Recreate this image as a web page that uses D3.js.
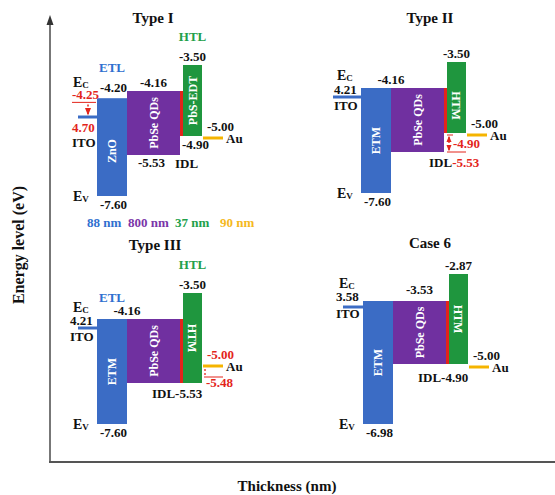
<!DOCTYPE html>
<html>
<head>
<meta charset="utf-8">
<script src="https://cdn.jsdelivr.net/npm/d3@7"></script>
<style>
  body { margin: 0; background: #fff; }
  svg text { font-family: "Liberation Serif", "Times New Roman", serif; font-weight: bold; }
</style>
</head>
<body>
<div id="chart"></div>
<script>
// ---- data (eV) ----
var panels     = ["Type I", "Type II", "Type III", "Case 6"];
var etmNames   = ["ZnO", "ETM", "ETM", "ETM"];
var htmNames   = ["PbS-EDT", "HTM", "HTM", "HTM"];
var itoLevel   = [-4.70, -4.21, -4.21, -3.58];
var etmTop     = [-4.20, -4.16, -4.16, -3.53];
var etmBottom  = [-7.60, -7.60, -7.60, -6.98];
var qdTop      = [-4.16, -4.16, -4.16, -3.53];
var qdBottom   = [-5.53, -5.53, -5.53, -4.90];
var htmTop     = [-3.50, -3.50, -3.50, -2.87];
var htmBottom  = [-4.90, -4.90, -5.53, -4.90];
var auLevel    = [-5.00, -5.00, -5.00, -5.00];
var ecShift    = -4.25;   // Type I, ITO shifted level
var auShift    = -5.48;   // Type III, shifted Au level
var thicknessLabels = ["88 nm", "800 nm", "37 nm", "90 nm"];

// ---- layout ----
var W = 555, H = 495;
// schematic (not to scale) energy axes: energy stops -> pixel offset below panel top
var levelStops = [
  {levels: [-3.50, -4.16, -4.21, -4.70, -4.90, -5.00, -5.48, -5.53, -7.60],
   offsets: [0, 26, 35, 52, 71, 73, 84, 90, 131]},
  {levels: [-2.87, -3.53, -3.58, -4.90, -5.00, -6.98],
   offsets: [0, 27, 33, 90, 93, 150]}
];
var layout = [
  {x0: 97,  top: 65,  itoW: 19, titleX: 153, titleY: 23,  stops: 0, ecY: 11},
  {x0: 361, top: 62,  itoW: 28, titleX: 430, titleY: 23,  stops: 0, ecY: 8},
  {x0: 97,  top: 293, itoW: 19, titleX: 155, titleY: 250, stops: 0, ecY: 7},
  {x0: 363, top: 274, itoW: 20, titleX: 430, titleY: 248, stops: 1, ecY: 13}
];
// etm, qd, idl, htm, gap, au
var layerW = [30, 53, 3, 19, 1, 20];
var thickX = [87, 128, 175, 220];
var thickColors = ["#2f6fcf", "#7a35a8", "#22a04a", "#f5b820"];

var c = {etm: "#3b6cc5", qd: "#7030a0", htm: "#1f963e", red: "#e3241b",
         au: "#f5b400", ink: "#111", etl: "#2f6fcf", htl: "#22a04a"};
var fmt = d3.formatLocale({decimal: ".", thousands: ",", grouping: [3],
                           currency: ["", ""], minus: "-"}).format(".2f");

var svg = d3.select("#chart").append("svg")
    .attr("width", W)
    .attr("height", H);

var defs = svg.append("defs");
defs.append("marker").attr("id", "ah").attr("viewBox", "0 0 10 10")
    .attr("refX", 8).attr("refY", 5).attr("markerWidth", 5).attr("markerHeight", 5)
    .attr("orient", "auto-start-reverse")
  .append("path").attr("d", "M0,1L10,5L0,9Z").attr("fill", c.red);

// ---- axes frame ----
svg.append("line")
    .attr("x1", 50).attr("x2", 50).attr("y1", 462).attr("y2", 22)
    .attr("stroke", "#555").attr("stroke-width", 1.6);
svg.append("path").attr("d", "M50,15L46.5,25L53.5,25Z").attr("fill", "#333");
svg.append("line")
    .attr("x1", 49).attr("x2", 555).attr("y1", 462).attr("y2", 462)
    .attr("stroke", "#555").attr("stroke-width", 1.8);

svg.append("text")
    .attr("transform", "translate(24,245) rotate(-90)")
    .attr("text-anchor", "middle")
    .style("font-size", "16px")
    .style("fill", c.ink)
    .text("Energy level (eV)");

svg.append("text")
    .attr("x", 287).attr("y", 491)
    .attr("text-anchor", "middle")
    .style("font-size", "15px")
    .style("fill", c.ink)
    .text("Thickness (nm)");

function label(g, x, y, txt, opts) {
  opts = opts || {};
  return g.append("text")
      .attr("x", x).attr("y", y)
      .attr("text-anchor", opts.anchor || "start")
      .style("font-size", (opts.size || 13) + "px")
      .style("fill", opts.color || c.ink)
      .text(txt);
}

function vlabel(g, cx, cy, txt, rot) {
  g.append("text")
      .attr("transform", "translate(" + cx + "," + cy + ") rotate(" + rot + ")")
      .attr("text-anchor", "middle")
      .attr("dy", "0.35em")
      .style("font-size", "12px")
      .style("fill", "#fff")
      .text(txt);
}

function eLabel(g, x, y, sub) {
  var t = g.append("text").attr("x", x).attr("y", y)
      .style("font-size", "14px").style("fill", c.ink);
  t.append("tspan").text("E");
  t.append("tspan").attr("dy", 1).style("font-size", "9px").text(sub);
}

panels.forEach(function(name, i) {
  var p = layout[i];
  var st = levelStops[p.stops];
  var y = d3.scaleLinear()
      .domain(st.levels)
      .range(st.offsets.map(function(o) { return p.top + o; }));
  var edges = [0].concat(Array.from(d3.cumsum(layerW)));
  var x = d3.scaleLinear()
      .domain([0, d3.sum(layerW)])
      .range([p.x0, p.x0 + d3.sum(layerW)]);
  var g = svg.append("g").attr("class", "panel");

  var idlBottom = Math.max(htmBottom[i], qdBottom[i]);
  var bars = [
    {k: 0, top: etmTop[i], bot: etmBottom[i], fill: c.etm},
    {k: 1, top: qdTop[i],  bot: qdBottom[i],  fill: c.qd},
    {k: 3, top: htmTop[i], bot: htmBottom[i], fill: c.htm},
    {k: 2, top: qdTop[i],  bot: idlBottom,    fill: c.red}
  ];
  g.selectAll("rect.band").data(bars).enter().append("rect")
      .attr("class", "band")
      .attr("x", function(d) { return x(edges[d.k]); })
      .attr("width", function(d) { return x(edges[d.k + 1]) - x(edges[d.k]); })
      .attr("y", function(d) { return y(d.top); })
      .attr("height", function(d) { return y(d.bot) - y(d.top); })
      .attr("fill", function(d) { return d.fill; });

  // ITO and Au work-function lines
  g.append("line")
      .attr("x1", p.x0 - p.itoW).attr("x2", p.x0)
      .attr("y1", y(itoLevel[i])).attr("y2", y(itoLevel[i]))
      .attr("stroke", c.etm).attr("stroke-width", 3);
  var auL = x(edges[5]), auR = x(edges[6]);
  g.append("line")
      .attr("x1", auL).attr("x2", auR)
      .attr("y1", y(auLevel[i])).attr("y2", y(auLevel[i]))
      .attr("stroke", c.au).attr("stroke-width", 3);

  var etmC = (x(edges[0]) + x(edges[1])) / 2;
  var qdC = (x(edges[1]) + x(edges[2])) / 2;
  var htmL = x(edges[3]), htmR = x(edges[4]);
  var htmC = (htmL + htmR) / 2;

  vlabel(g, etmC, (y(etmTop[i]) + y(etmBottom[i])) / 2 + (i === 0 ? 4 : 0), etmNames[i], -90);
  vlabel(g, qdC, (y(qdTop[i]) + y(qdBottom[i])) / 2, "PbSe QDs", -90);
  vlabel(g, htmC, (y(htmTop[i]) + y(htmBottom[i])) / 2 + (i === 1 ? 8 : 0), htmNames[i], i === 0 ? -90 : 90);

  label(g, p.titleX, p.titleY, name, {anchor: "middle", size: 15});

  eLabel(g, p.x0 - 24, y(etmTop[i]) - p.ecY, "C");
  eLabel(g, p.x0 - 24, y(etmBottom[i]) + 5, "V");
  label(g, p.x0 + 3, y(etmBottom[i]) + 13, fmt(etmBottom[i]));
  label(g, htmC, y(htmTop[i]) - 4, fmt(htmTop[i]), {anchor: "middle"});
  label(g, auL + 4, y(auLevel[i]) - 7, fmt(auLevel[i]), {color: i === 2 ? c.red : c.ink});
  label(g, auR + 3, y(auLevel[i]) + 5, "Au");

  if (i === 0 || i === 2) {
    label(g, etmC, p.top + 7 + (i === 2 ? 2 : 0), "ETL", {anchor: "middle", color: c.etl});
    label(g, htmC, y(htmTop[i]) - 24, "HTL", {anchor: "middle", color: c.htl});
  }

  if (i === 0) {
    label(g, p.x0 + 3, y(etmTop[i]) - 6, fmt(etmTop[i]));
    label(g, qdC, y(qdTop[i]) - 4, fmt(qdTop[i]), {anchor: "middle"});
    // shifted conduction level of ITO
    label(g, p.x0 - 25, y(ecShift) - 2, fmt(ecShift), {color: c.red});
    g.append("line")
        .attr("x1", p.x0 - 25).attr("x2", p.x0 - 1)
        .attr("y1", y(ecShift) + 1).attr("y2", y(ecShift) + 1)
        .attr("stroke", c.red).attr("stroke-width", 1);
    g.append("line")
        .attr("x1", p.x0 - 9).attr("x2", p.x0 - 9)
        .attr("y1", y(ecShift) + 3).attr("y2", y(itoLevel[i]) - 3)
        .attr("stroke", c.red).attr("stroke-width", 1.5)
        .attr("stroke-dasharray", "2,2")
        .attr("marker-end", "url(#ah)");
    label(g, p.x0 - 25, y(itoLevel[i]) + 15, fmt(-itoLevel[i]), {color: c.red});
    label(g, p.x0 - 25, y(itoLevel[i]) + 30, "ITO");
    label(g, htmL - 1, y(htmBottom[i]) + 13, fmt(htmBottom[i]));
    label(g, qdC - 2, y(qdBottom[i]) + 12, fmt(qdBottom[i]), {anchor: "middle"});
    label(g, htmL - 8, y(qdBottom[i]) + 13, "IDL");
    thicknessLabels.forEach(function(t, j) {
      label(g, thickX[j], 227, t, {color: thickColors[j]});
    });
  } else {
    var ecX = i === 3 ? qdC : x(edges[1]);
    label(g, ecX, y(qdTop[i]) - (i === 3 ? 7 : 4), fmt(qdTop[i]), {anchor: "middle"});
    label(g, p.x0 - 27, y(itoLevel[i]) - (i === 3 ? 6 : 3), fmt(-itoLevel[i]));
    label(g, p.x0 - 27, y(itoLevel[i]) + (i === 3 ? 11 : 13), "ITO");
  }

  if (i === 1) {
    var t = label(g, x(edges[2]) - 15, y(qdBottom[i]) + 15, "IDL");
    t.append("tspan").style("fill", c.red).text(fmt(qdBottom[i]));
    label(g, htmL + 6, y(qdBottom[i]) - 4, fmt(htmBottom[i]), {color: c.red});
    g.append("line")
        .attr("x1", htmL).attr("x2", htmL + 6)
        .attr("y1", y(auLevel[i])).attr("y2", y(auLevel[i]))
        .attr("stroke", c.red).attr("stroke-width", 1);
    g.append("line")
        .attr("x1", htmL).attr("x2", htmR)
        .attr("y1", y(qdBottom[i])).attr("y2", y(qdBottom[i]))
        .attr("stroke", c.red).attr("stroke-width", 1);
    g.append("line")
        .attr("x1", htmL + 2).attr("x2", htmL + 2)
        .attr("y1", y(auLevel[i]) + 2).attr("y2", y(qdBottom[i]) - 2)
        .attr("stroke", c.red).attr("stroke-width", 1.3)
        .attr("stroke-dasharray", "2,2")
        .attr("marker-start", "url(#ah)")
        .attr("marker-end", "url(#ah)");
  }

  if (i === 2) {
    label(g, x(edges[2]) - 28, y(qdBottom[i]) + 15, "IDL" + fmt(qdBottom[i]));
    g.append("line")
        .attr("x1", auL + 1).attr("x2", auR)
        .attr("y1", y(auShift)).attr("y2", y(auShift))
        .attr("stroke", c.red).attr("stroke-width", 1);
    g.append("line")
        .attr("x1", auL + 2).attr("x2", auL + 2)
        .attr("y1", y(auLevel[i]) + 3).attr("y2", y(auShift) - 1)
        .attr("stroke", c.red).attr("stroke-width", 1.3)
        .attr("stroke-dasharray", "2,2");
    label(g, auL + 3, y(auShift) + 10, fmt(auShift), {color: c.red});
  }

  if (i === 3) {
    label(g, x(edges[2]) - 28, y(qdBottom[i]) + 18, "IDL" + fmt(qdBottom[i]));
  }
});
</script>
</body>
</html>
